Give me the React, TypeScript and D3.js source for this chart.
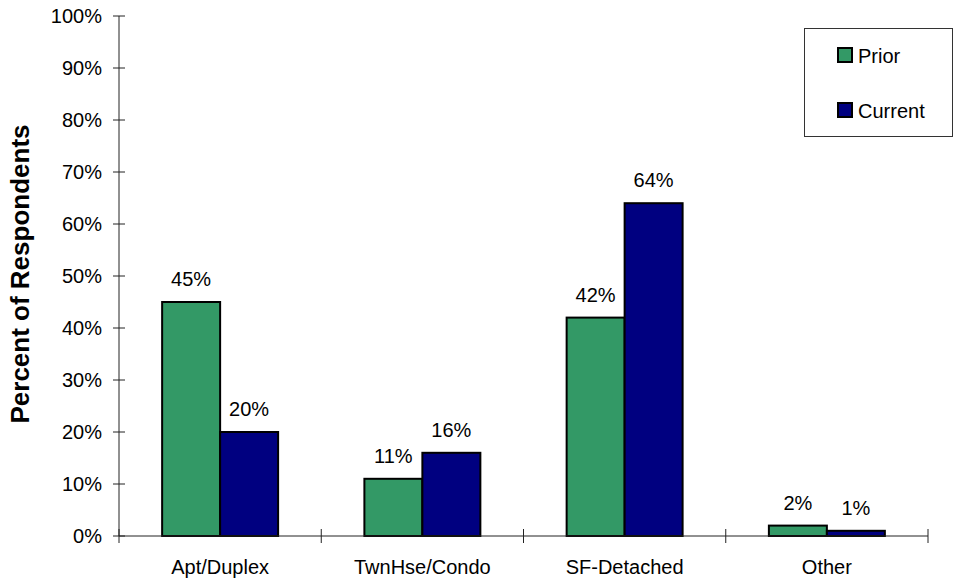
import React, { useEffect, useRef } from "react";
import * as d3 from "d3";

const categories = ["Apt/Duplex", "TwnHse/Condo", "SF-Detached", "Other"];
const seriesNames = ["Prior", "Current"];
const priorValues = [45, 11, 42, 2];
const currentValues = [20, 16, 64, 1];
const yTicks = [0, 10, 20, 30, 40, 50, 60, 70, 80, 90, 100];
const colors = ["#339966", "#000080"];

const FONT = "'Liberation Sans', Arial, Helvetica, sans-serif";

const App: React.FC = () => {
  const svgRef = useRef<SVGSVGElement>(null);

  useEffect(() => {
    const svg = d3.select(svgRef.current);
    svg.selectAll("*").remove();

    const left = 119;
    const right = 928;
    const top = 16;
    const bottom = 536;

    const x0 = d3.scaleBand<string>().domain(categories).range([left, right]);
    const x1 = d3
      .scaleBand<string>()
      .domain(seriesNames)
      .range([0, x0.bandwidth()])
      .paddingInner(0)
      .paddingOuter(0.744);
    const y = d3.scaleLinear().domain([0, 100]).range([bottom, top]);

    const rows = categories.map((c, i) => ({
      category: c,
      values: [priorValues[i], currentValues[i]],
    }));

    // y axis
    const yAxis = svg.append("g");
    yAxis
      .append("line")
      .attr("x1", left)
      .attr("x2", left)
      .attr("y1", y(100))
      .attr("y2", y(0))
      .attr("stroke", "#222")
      .attr("stroke-width", 1);
    const yt = yAxis.selectAll("g.tick").data(yTicks).enter().append("g");
    yt.append("line")
      .attr("x1", left - 6)
      .attr("x2", left + 6)
      .attr("y1", (d) => y(d))
      .attr("y2", (d) => y(d))
      .attr("stroke", "#222");
    yt.append("text")
      .attr("x", left - 17)
      .attr("y", (d) => y(d))
      .attr("dy", "0.35em")
      .attr("text-anchor", "end")
      .style("font-family", FONT)
      .style("font-size", "20px")
      .attr("fill", "#000")
      .text((d) => d + "%");

    // bars
    const groups = svg
      .selectAll("g.cat")
      .data(rows)
      .enter()
      .append("g")
      .attr("transform", (d) => `translate(${x0(d.category)},0)`);

    groups
      .selectAll("rect")
      .data((d) => d.values.map((v, i) => ({ name: seriesNames[i], v, i })))
      .enter()
      .append("rect")
      .attr("x", (d) => x1(d.name) || 0)
      .attr("width", x1.bandwidth())
      .attr("y", (d) => y(d.v))
      .attr("height", (d) => y(0) - y(d.v))
      .attr("fill", (d) => colors[d.i])
      .attr("stroke", "#000")
      .attr("stroke-width", 2);

    groups
      .selectAll("text.val")
      .data((d) => d.values.map((v, i) => ({ name: seriesNames[i], v })))
      .enter()
      .append("text")
      .attr("x", (d) => (x1(d.name) || 0) + x1.bandwidth() / 2)
      .attr("y", (d) => y(d.v) - 16)
      .attr("text-anchor", "middle")
      .style("font-family", FONT)
      .style("font-size", "20px")
      .attr("fill", "#000")
      .text((d) => d.v + "%");

    // x axis
    const xAxis = svg.append("g");
    xAxis
      .append("line")
      .attr("x1", left)
      .attr("x2", right)
      .attr("y1", bottom)
      .attr("y2", bottom)
      .attr("stroke", "#222");
    const xTickPos = categories.map((c) => x0(c) || 0).concat([right]);
    xAxis
      .selectAll("line.tick")
      .data(xTickPos)
      .enter()
      .append("line")
      .attr("x1", (d) => d)
      .attr("x2", (d) => d)
      .attr("y1", bottom - 7)
      .attr("y2", bottom + 7)
      .attr("stroke", "#222");
    xAxis
      .selectAll("text")
      .data(categories)
      .enter()
      .append("text")
      .attr("x", (d) => (x0(d) || 0) + x0.bandwidth() / 2)
      .attr("y", 574)
      .attr("text-anchor", "middle")
      .style("font-family", FONT)
      .style("font-size", "20px")
      .attr("fill", "#000")
      .text((d) => d);

    // y title
    svg
      .append("text")
      .attr("transform", "translate(29,274) rotate(-90)")
      .attr("text-anchor", "middle")
      .style("font-family", FONT)
      .style("font-size", "26px")
      .style("font-weight", "bold")
      .attr("fill", "#000")
      .text("Percent of Respondents");

    // legend
    const legend = svg.append("g");
    legend
      .append("rect")
      .attr("x", 804.5)
      .attr("y", 28.5)
      .attr("width", 148)
      .attr("height", 108)
      .attr("fill", "#fff")
      .attr("stroke", "#333");
    const items = legend
      .selectAll("g.item")
      .data(seriesNames)
      .enter()
      .append("g")
      .attr("transform", (d, i) => `translate(838,${48 + i * 55})`);
    items
      .append("rect")
      .attr("width", 14)
      .attr("height", 14)
      .attr("fill", (d, i) => colors[i])
      .attr("stroke", "#000")
      .attr("stroke-width", 2);
    items
      .append("text")
      .attr("x", 20)
      .attr("y", 15)
      .style("font-family", FONT)
      .style("font-size", "20px")
      .attr("fill", "#000")
      .text((d) => d);
  }, []);

  return (
    <svg
      ref={svgRef}
      width={956}
      height={580}
      style={{ position: "absolute", left: 0, top: 0, background: "#fff" }}
    ></svg>
  );
};

export default App;
